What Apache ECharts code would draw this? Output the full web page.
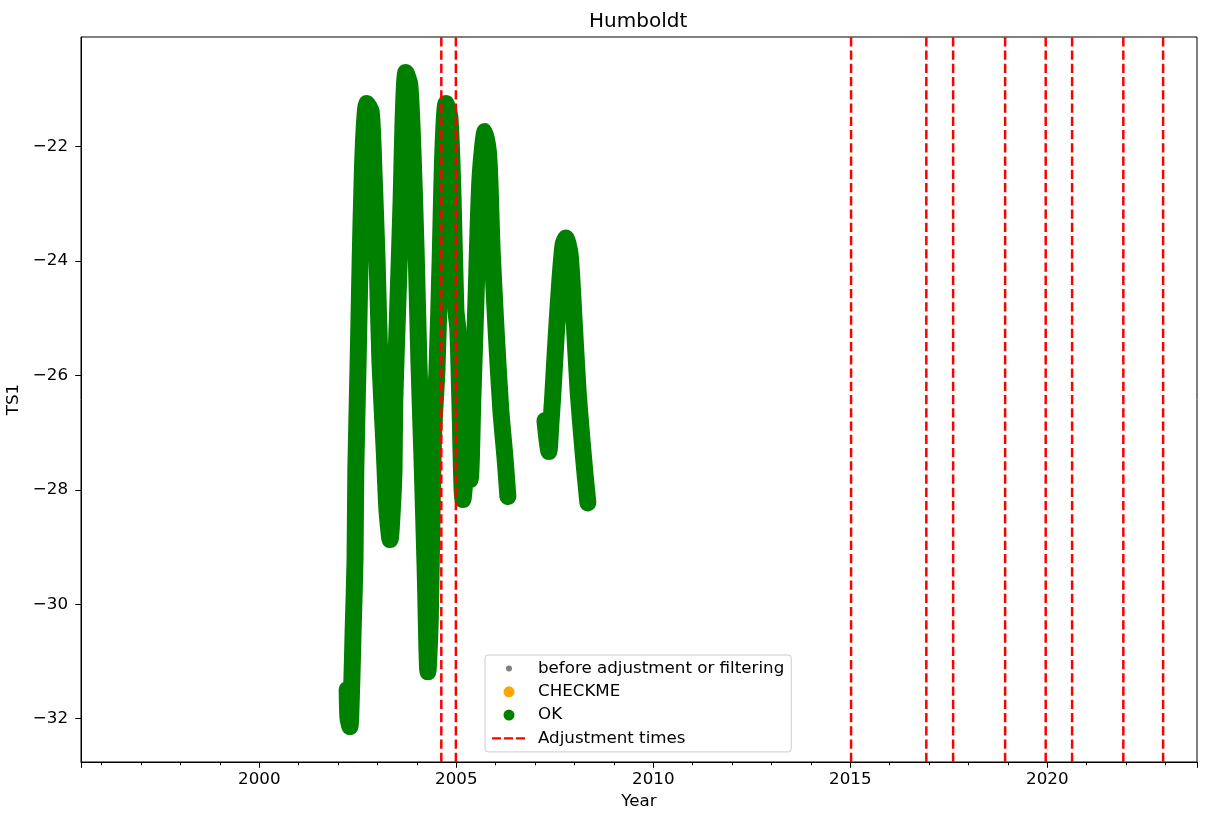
<!DOCTYPE html>
<html>
<head>
<meta charset="utf-8">
<script src="https://cdn.jsdelivr.net/npm/echarts@6/dist/echarts.min.js"></script>
<style>html,body{margin:0;padding:0;background:#fff;}#chart{width:1208px;height:822px;}</style>
</head>
<body>
<div id="chart"></div>
<script>
// ---- data ----
const okYears1 = [2002.23, 2002.25, 2002.30, 2002.35, 2002.38, 2002.43, 2002.45, 2002.51, 2002.56, 2002.61,
  2002.66, 2002.73, 2002.84, 2002.91, 2002.99, 2003.06, 2003.17, 2003.24, 2003.32, 2003.39,
  2003.42, 2003.44, 2003.52, 2003.60, 2003.65, 2003.72, 2003.82, 2003.90, 2003.98, 2004.05,
  2004.13, 2004.21, 2004.28, 2004.34, 2004.39, 2004.43, 2004.51, 2004.59, 2004.66, 2004.74,
  2004.84, 2004.92, 2004.99, 2005.04, 2005.09, 2005.17, 2005.27, 2005.35, 2005.42, 2005.50,
  2005.60, 2005.73, 2005.83, 2005.91, 2006.01, 2006.13, 2006.24, 2006.31];
const okValues1 = [-31.49, -31.98, -32.14, -31.32, -30.50, -29.22, -27.65, -25.73, -23.98, -22.58,
  -21.71, -21.25, -21.39, -22.41, -23.98, -25.73, -27.30, -28.35, -28.87, -28.17,
  -27.65, -26.43, -24.68, -22.93, -21.53, -20.71, -20.92, -22.06, -23.81, -25.73,
  -27.47, -29.40, -31.18, -30.27, -28.17, -26.95, -25.90, -23.98, -22.06, -21.25,
  -21.50, -22.93, -24.85, -25.20, -26.43, -28.17, -27.65, -27.82, -26.43, -24.68,
  -22.58, -21.74, -22.23, -23.81, -25.20, -26.60, -27.47, -28.12];
const okYears2 = [2007.25, 2007.35, 2007.40, 2007.45, 2007.53, 2007.63, 2007.71, 2007.78, 2007.89, 2007.99,
  2008.09, 2008.19, 2008.27, 2008.34];
const okValues2 = [-26.79, -27.33, -26.86, -26.34, -25.38, -24.33, -23.72, -23.60, -23.89, -25.03,
  -26.25, -27.12, -27.74, -28.23];
const beforeData = [];
const checkmeData = [];
const adjustmentTimes = [2004.62, 2004.99, 2015.02, 2016.93, 2017.61, 2018.93, 2019.96, 2020.63, 2021.93, 2022.94];
const xTickLabels = [2000, 2005, 2010, 2015, 2020];
const yTickLabels = [-32, -30, -28, -26, -24, -22];
const xMin = 1995.475, xMax = 2023.80;
const yMin = -32.757, yMax = -20.088;

// ---- chart ----
const FONT = 'DejaVu Sans';
const fmt = v => String(v).replace('-', '\u2212');
const zip = (a, b) => a.map((v, i) => [v, b[i]]);

const dotBig = 'path://M0,0M41,12M11.5,6a5.5,5.5 0 1,0 11,0a5.5,5.5 0 1,0 -11,0z';
const dotSmall = 'path://M0,0M41,12M14,6a3,3 0 1,0 6,0a3,3 0 1,0 -6,0z';
const dashIcon = 'path://M0,0M41,12M0,4.8h9v2.4h-9zM12,4.8h9v2.4h-9zM24,4.8h9v2.4h-9z';

const okLine = { width: 17, cap: 'round', join: 'round', color: '#008000' };
const series = [
  { name: 'before adjustment or filtering', type: 'scatter', data: beforeData, color: '#808080', itemStyle: { opacity: 1 } },
  { name: 'CHECKME', type: 'scatter', data: checkmeData, color: '#ffa500', itemStyle: { opacity: 1 } },
  { name: 'OK', type: 'line', data: zip(okYears1, okValues1), color: '#008000', showSymbol: false, symbol: 'none',
    smooth: 0.25, lineStyle: okLine, silent: true },
  { name: 'OK', type: 'line', data: zip(okYears2, okValues2), color: '#008000', showSymbol: false, symbol: 'none',
    smooth: 0.25, lineStyle: okLine, silent: true }
];
adjustmentTimes.forEach(t => {
  series.push({ name: 'Adjustment times', type: 'line', data: [[t, yMin], [t, yMax]], color: '#ff0000',
    symbol: 'none', silent: true, lineStyle: { width: 2.5, type: [9.25, 4], color: '#ff0000' } });
});

const chart = echarts.init(document.getElementById('chart'), null, { renderer: 'canvas' });
chart.setOption({
  animation: false,
  backgroundColor: '#fff',
  textStyle: { fontFamily: FONT, color: '#000' },
  title: { text: 'Humboldt', left: 589, top: 12, padding: 0,
    textStyle: { fontFamily: FONT, fontSize: 20, fontWeight: 'normal', color: '#000', lineHeight: 20 } },
  grid: { left: 81, top: 37, width: 1116, height: 725, containLabel: false, outerBoundsMode: 'none',
    show: true, borderColor: '#000', borderWidth: 1, backgroundColor: 'transparent' },
  legend: {
    orient: 'vertical', left: 485, top: 655, padding: [5, 7, 5, 7],
    itemWidth: 41, itemHeight: 12, itemGap: 6.3, selectedMode: false,
    backgroundColor: 'rgba(255,255,255,0.8)', borderColor: '#cccccc', borderWidth: 1, borderRadius: 3,
    itemStyle: { borderWidth: 0 },
    textStyle: { fontFamily: FONT, fontSize: 16.7, color: '#000' },
    data: [
      { name: 'before adjustment or filtering', icon: dotSmall },
      { name: 'CHECKME', icon: dotBig },
      { name: 'OK', icon: dotBig },
      { name: 'Adjustment times', icon: dashIcon }
    ]
  },
  xAxis: {
    type: 'value', min: xMin, max: xMax, splitNumber: 5,
    name: 'Year', nameLocation: 'middle', nameGap: 31,
    nameTextStyle: { fontFamily: FONT, fontSize: 16.7, color: '#000' },
    axisLine: { show: true, lineStyle: { color: '#000', width: 1 } },
    axisTick: { show: true, length: 5.8, lineStyle: { color: '#000', width: 1 } },
    minorTick: { show: true, splitNumber: 5, length: 3.3, lineStyle: { color: '#000', width: 1 } },
    axisLabel: { customValues: xTickLabels, margin: 9, fontFamily: FONT, fontSize: 16.7, color: '#000', formatter: fmt },
    splitLine: { show: false }
  },
  yAxis: {
    type: 'value', min: yMin, max: yMax,
    name: 'TS1', nameLocation: 'middle', nameGap: 49,
    nameTextStyle: { fontFamily: FONT, fontSize: 16.7, color: '#000' },
    axisLine: { show: true, lineStyle: { color: '#000', width: 1 } },
    axisTick: { show: true, length: 5.8, customValues: yTickLabels, lineStyle: { color: '#000', width: 1 } },
    axisLabel: { customValues: yTickLabels, margin: 13, fontFamily: FONT, fontSize: 16.7, color: '#000', formatter: fmt },
    splitLine: { show: false }
  },
  series: series
});
</script>
</body>
</html>
